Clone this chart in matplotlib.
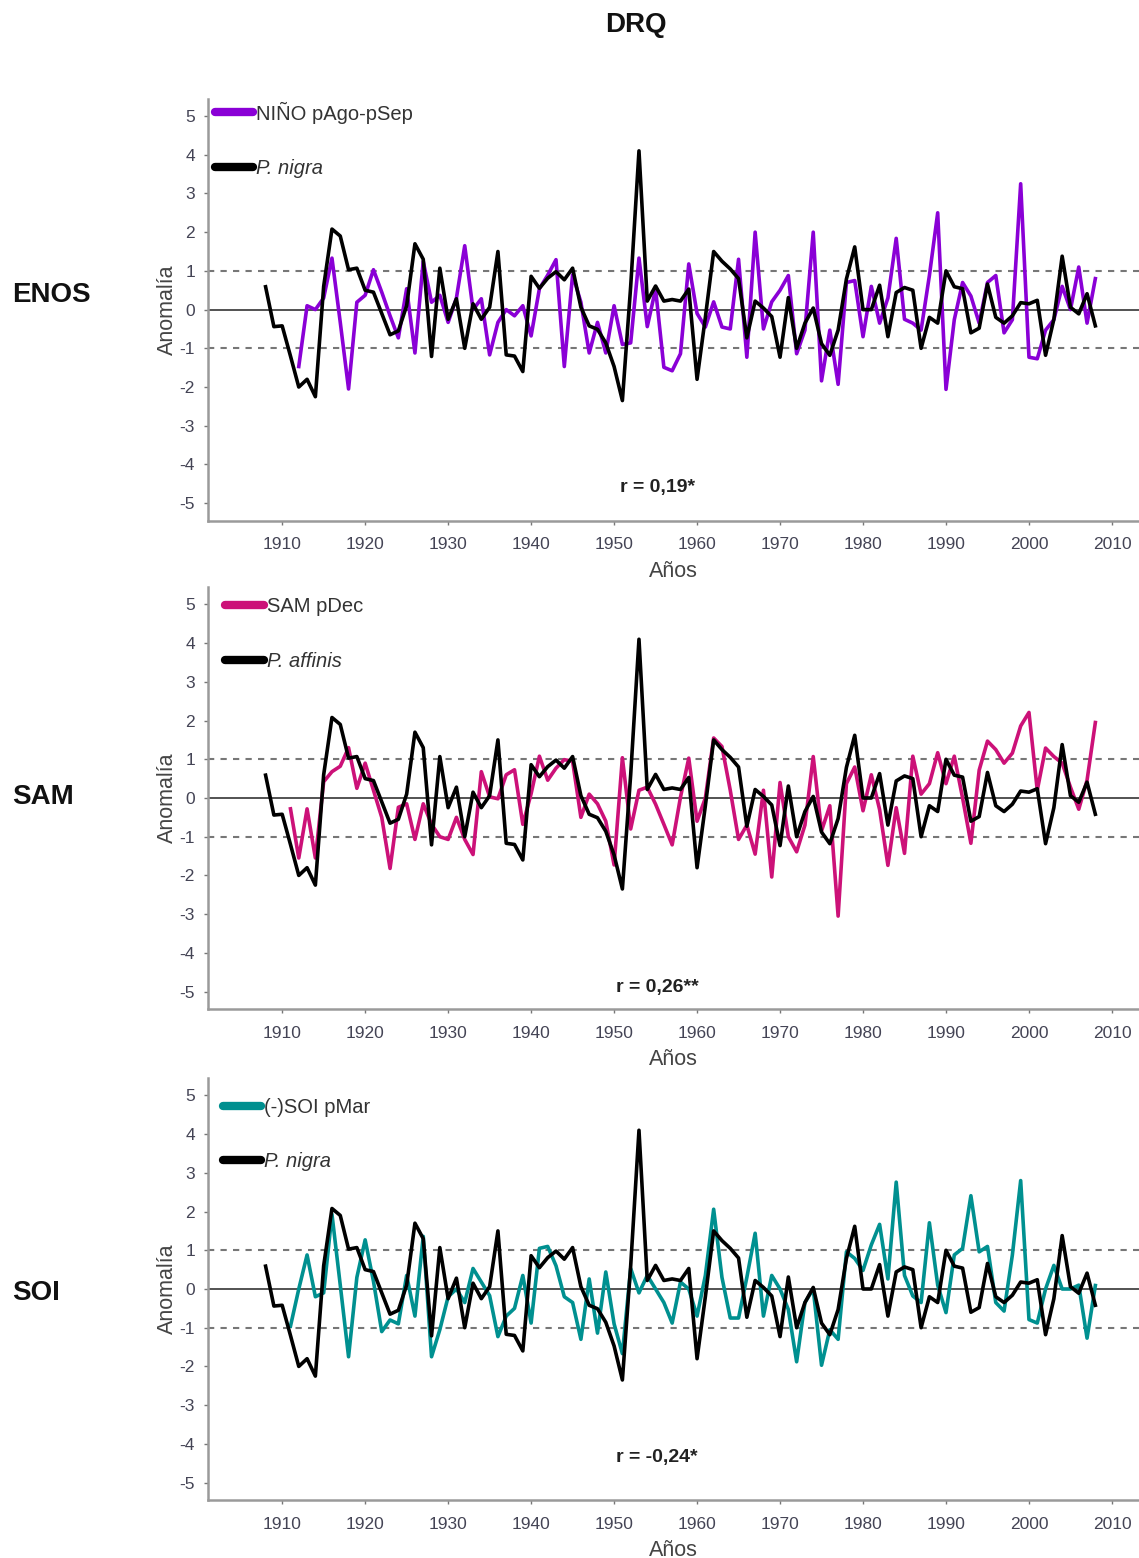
import numpy as np
import matplotlib
matplotlib.use("Agg")
import matplotlib.pyplot as plt
from matplotlib.lines import Line2D

plt.rcParams['font.family'] = ['Liberation Sans', 'DejaVu Sans']

# ---------------- data ----------------
black_start = 1908
black_vals = [
    0.59, -0.44, -0.42, -1.20, -2.00, -1.80, -2.25, 0.60, 2.08, 1.90,    # 1908-1917
    1.03, 1.07, 0.50, 0.45, -0.10, -0.65, -0.55, 0.10, 1.70, 1.30,      # 1918-1927
    -1.21, 1.07, -0.25, 0.28, -1.00, 0.15, -0.25, 0.06, 1.50, -1.17,    # 1928-1937
    -1.20, -1.60, 0.86, 0.55, 0.81, 0.98, 0.77, 1.07, 0.06, -0.42,      # 1938-1947
    -0.51, -0.86, -1.47, -2.35, 0.60, 4.10, 0.22, 0.61, 0.22, 0.26,     # 1948-1957
    0.22, 0.53, -1.80, -0.20, 1.50, 1.25, 1.05, 0.80, -0.73, 0.22,      # 1958-1967
    0.04, -0.18, -1.23, 0.31, -1.00, -0.35, 0.04, -0.88, -1.18, -0.53,  # 1968-1977
    0.79, 1.62, 0.00, 0.00, 0.63, -0.70, 0.44, 0.57, 0.50, -1.00,       # 1978-1987
    -0.20, -0.35, 1.00, 0.59, 0.54, -0.60, -0.48, 0.66, -0.20, -0.35,   # 1988-1997
    -0.16, 0.18, 0.15, 0.24, -1.18, -0.25, 1.38, 0.06, -0.11, 0.41,     # 1998-2007
    -0.42,                                                              # 2008
]

nino_start = 1912
nino_vals = [
    -1.47, 0.10, 0.00, 0.30, 1.33, -0.33, -2.05, 0.19,                  # 1912-1919
    0.37, 1.03, 0.45, -0.16, -0.73, 0.54, -1.12, 1.25, 0.19, 0.37,      # 1920-1929
    -0.33, 0.30, 1.65, 0.00, 0.28, -1.17, -0.33, 0.00, -0.16, 0.10,     # 1930-1939
    -0.68, 0.54, 0.89, 1.29, -1.47, 0.90, 0.19, -1.12, -0.33, -1.12,    # 1940-1949
    0.10, -0.90, -0.86, 1.33, -0.44, 0.53, -1.49, -1.58, -1.14, 1.18,   # 1950-1959
    -0.10, -0.45, 0.20, -0.45, -0.50, 1.30, -1.23, 2.00, -0.50, 0.20,   # 1960-1969
    0.50, 0.88, -1.14, -0.53, 2.00, -1.84, -0.53, -1.93, 0.70, 0.75,    # 1970-1979
    -0.70, 0.60, -0.35, 0.30, 1.84, -0.25, -0.35, -0.53, 0.88, 2.50,    # 1980-1989
    -2.06, -0.26, 0.70, 0.35, -0.35, 0.70, 0.88, -0.60, -0.26, 3.25,    # 1990-1999
    -1.23, -1.27, -0.53, -0.26, 0.60, 0.00, 1.10, -0.35, 0.80,          # 2000-2008
]

sam_start = 1911
sam_vals = [
    -0.28, -1.55, -0.28, -1.55, 0.42, 0.68, 0.82, 1.30, 0.25,           # 1911-1919
    0.90, 0.20, -0.50, -1.82, -0.24, -0.15, -1.07, -0.15, -0.68, -1.00, # 1920-1929
    -1.07, -0.50, -1.07, -1.46, 0.68, 0.03, -0.02, 0.60, 0.73, -0.68,   # 1930-1939
    0.11, 1.08, 0.46, 0.77, 0.99, 0.95, -0.50, 0.10, -0.15, -0.60,      # 1940-1949
    -1.73, 1.04, -0.80, 0.20, 0.28, -0.16, -0.68, -1.21, 0.02, 1.03,    # 1950-1959
    -0.60, 0.00, 1.55, 1.33, 0.20, -1.07, -0.70, -1.45, 0.20, -2.04,    # 1960-1969
    0.40, -1.00, -1.39, -0.70, 1.07, -0.85, -0.20, -3.05, 0.37, 0.80,   # 1970-1979
    -0.33, 0.60, -0.30, -1.74, -0.25, -1.43, 1.08, 0.10, 0.37, 1.17,    # 1980-1989
    0.37, 1.08, 0.00, -1.17, 0.72, 1.47, 1.25, 0.90, 1.16, 1.86,        # 1990-1999
    2.21, 0.20, 1.29, 1.07, 0.90, 0.28, -0.29, 0.46, 1.95,              # 2000-2008
]

soi_start = 1911
soi_vals = [
    -0.96, 0.00, 0.88, -0.20, -0.10, 1.93, 0.10, -1.75, 0.30,           # 1911-1919
    1.27, 0.20, -1.10, -0.80, -0.90, 0.35, -0.70, 1.36, -1.75, -1.05,   # 1920-1929
    -0.20, 0.00, -0.35, 0.53, 0.18, -0.17, -1.23, -0.70, -0.50, 0.35,   # 1930-1939
    -0.88, 1.05, 1.10, 0.60, -0.20, -0.35, -1.30, 0.26, -1.14, 0.44,    # 1940-1949
    -0.90, -1.67, 0.53, -0.10, 0.35, 0.00, -0.35, -0.88, 0.18, 0.00,    # 1950-1959
    -0.70, 0.35, 2.06, 0.30, -0.75, -0.75, 0.30, 1.44, -0.70, 0.35,     # 1960-1969
    0.00, -0.53, -1.88, -0.35, 0.00, -1.97, -1.05, -1.30, 0.96, 0.79,   # 1970-1979
    0.48, 1.14, 1.67, 0.26, 2.76, 0.35, -0.18, -0.35, 1.71, 0.10,       # 1980-1989
    -0.61, 0.88, 1.05, 2.41, 0.96, 1.10, -0.35, -0.57, 0.88, 2.80,      # 1990-1999
    -0.79, -0.88, 0.00, 0.61, 0.00, 0.00, 0.10, -1.27, 0.09,            # 2000-2008
]

panel_rows = ["ENOS", "SAM", "SOI"]
color_labels = ["NIÑO pAgo-pSep", "SAM pDec", "(-)SOI pMar"]
black_labels = ["P. nigra", "P. affinis", "P. nigra"]
r_texts = ["r = 0,19*", "r = 0,26**", "r = -0,24*"]
r_ypos = [-4.6, -4.9, -4.35]
colors = ["#8A00D6", "#CC1178", "#009090"]
color_series = [(nino_start, nino_vals), (sam_start, sam_vals), (soi_start, soi_vals)]
x_ticks = list(range(1910, 2011, 10))
y_ticks = list(range(-5, 6))
title = "DRQ"

# ---------------- figure ----------------
W, H = 1139, 1558
fig = plt.figure(figsize=(W / 100, H / 100), dpi=100)

ax_left = 207.5
ax_w = 931.0
ax_h = 422.0
tops = [98.6, 587.0, 1078.0]
leg_anchor = [(0.006, 0.998), (0.017, 0.980), (0.014, 0.958)]
row_label_y = [295, 797, 1293]

black_years = np.arange(black_start, black_start + len(black_vals))

for i in range(3):
    ax = fig.add_axes([ax_left / W, 1 - (tops[i] + ax_h) / H, ax_w / W, ax_h / H])
    ax.set_xlim(1901.0, 2013.2)
    ax.set_ylim(-5.45, 5.45)

    # reference lines
    ax.axhline(0, color="#444444", lw=1.3, zorder=1)
    for v in (1, -1):
        ax.axhline(v, color="#777777", lw=1.5, ls=(0, (3, 3)), zorder=1)

    cs, cv = color_series[i]
    cyears = np.arange(cs, cs + len(cv))
    ax.plot(cyears, cv, color=colors[i], lw=2.6, zorder=2, solid_joinstyle="round")
    ax.plot(black_years, black_vals, color="black", lw=2.6, zorder=3, solid_joinstyle="round")

    # spines
    for s in ("top", "right"):
        ax.spines[s].set_visible(False)
    for s in ("left", "bottom"):
        ax.spines[s].set_color("#9a9a9a")
        ax.spines[s].set_linewidth(1.8)

    ax.set_xticks(x_ticks)
    ax.set_yticks(y_ticks)
    ax.set_yticklabels([str(t) for t in y_ticks])
    ax.tick_params(axis="both", colors="#777777", length=3, width=1)
    ax.tick_params(axis="x", labelsize=12.5, labelcolor="#444455", pad=9)
    ax.tick_params(axis="y", labelsize=12.5, labelcolor="#444455", pad=6)

    ax.set_xlabel("Años", fontsize=15.5, color="#444444", labelpad=6)
    ax.set_ylabel("Anomalía", fontsize=15.5, color="#444444", labelpad=1)

    ax.text(1955.2, r_ypos[i], r_texts[i], ha="center", va="center",
            fontsize=14, fontweight="bold", color="#222222")

    handles = [Line2D([0], [0], color=colors[i], lw=6, solid_capstyle="round"),
               Line2D([0], [0], color="black", lw=6, solid_capstyle="round")]
    leg = ax.legend(handles, [color_labels[i], black_labels[i]],
                    loc="upper left", bbox_to_anchor=leg_anchor[i],
                    frameon=False, fontsize=14.5, handlelength=1.9,
                    handletextpad=0.15, labelspacing=1.77, borderpad=0.1,
                    borderaxespad=0.0)
    for t in leg.get_texts():
        t.set_color("#333333")
    leg.get_texts()[1].set_fontstyle("italic")

    # row label
    fig.text(12 / W, 1 - row_label_y[i] / H, panel_rows[i], ha="left", va="center",
             fontsize=20, fontweight="bold", color="#111111")

fig.text(636 / W, 1 - 25 / H, title, ha="center", va="center",
         fontsize=20, fontweight="bold", color="#111111")

fig.savefig("out.png", dpi=100)
